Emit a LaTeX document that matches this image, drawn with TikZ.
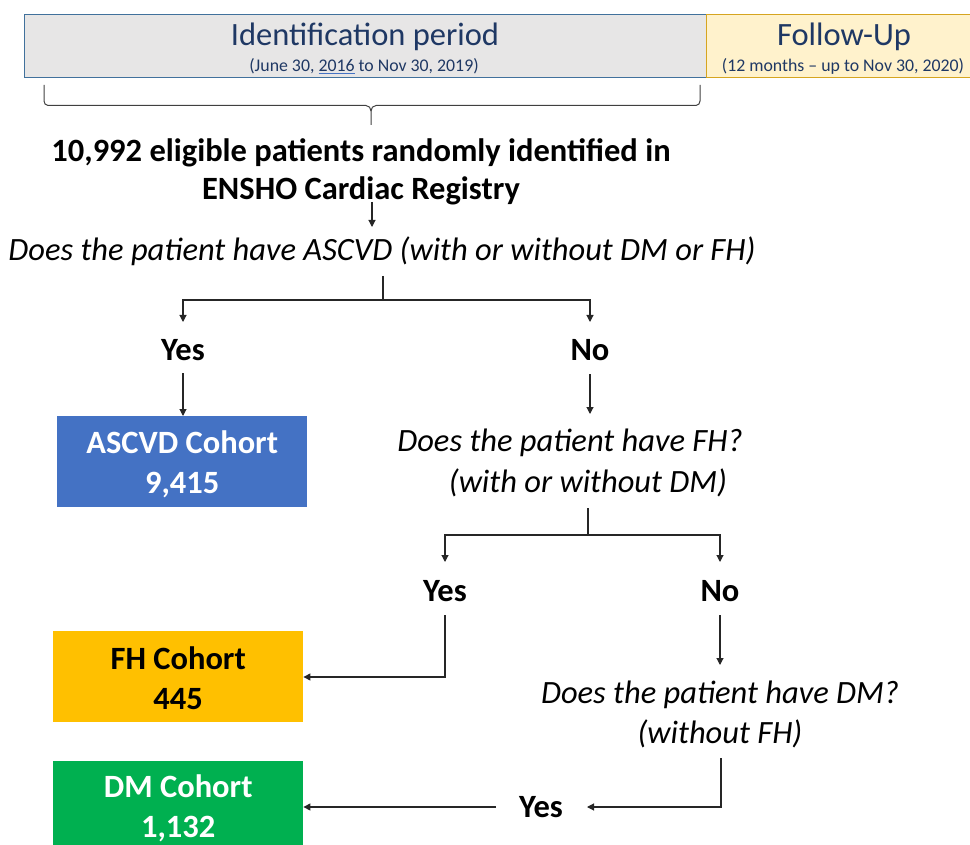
\documentclass[tikz,border=0pt]{standalone}
\usepackage{fontspec}
\setmainfont{Carlito}
\usetikzlibrary{arrows.meta}
\definecolor{hdrgray}{HTML}{E7E6E6}
\definecolor{hdrblue}{HTML}{41719C}
\definecolor{hdrtext}{HTML}{1F3864}
\definecolor{fuFill}{HTML}{FFF2CC}
\definecolor{fuLine}{HTML}{D6A520}
\definecolor{ascvd}{HTML}{4472C4}
\definecolor{fhcol}{HTML}{FFC000}
\definecolor{dmcol}{HTML}{00B050}
\definecolor{ulblue}{HTML}{4472C4}
\tikzset{
  lbl/.style={inner sep=0pt, align=center},
  q/.style={lbl, font=\fontsize{32.5}{40}\selectfont\itshape},
  ans/.style={lbl, font=\fontsize{32.5}{40}\selectfont\bfseries},
  cohort/.style={draw=none, minimum width=250pt, minimum height=91pt, inner sep=0pt, align=center, font=\fontsize{32.5}{40}\selectfont\bfseries},
  ctext/.style={lbl, font=\fontsize{32.5}{40}\selectfont\bfseries},
  conn/.style={draw=black!85, line width=1.1pt},
  arr/.style={conn, -{Triangle[length=7pt,width=7pt]}},
}
\begin{document}
\begin{tikzpicture}[x=1pt,y=-1pt]
\useasboundingbox (0,0) rectangle (970,845);
% header
\node[draw=hdrblue, fill=hdrgray, line width=1pt, minimum width=682pt, minimum height=63pt, anchor=north west, inner sep=0pt] (idbox) at (24,14) {};
\node[draw=fuLine, fill=fuFill, line width=1pt, minimum width=270pt, minimum height=63pt, anchor=north west, inner sep=0pt] (fubox) at (706,14) {};
\node[lbl, text=hdrtext, font=\fontsize{32.5}{36}\selectfont] (idt) at (365,37) {Identification period};
\node[lbl, text=hdrtext, font=\fontsize{17.8}{20}\selectfont] (ids) at (364,66) {(June 30, {\color{ulblue}\underline{\color{hdrtext}2016}} to Nov 30, 2019)};
\node[lbl, text=hdrtext, font=\fontsize{32.5}{36}\selectfont] (fut) at (844,37) {Follow-Up};
\node[lbl, text=hdrtext, font=\fontsize{17.8}{20}\selectfont] (fus) at (843,66) {(12 months -- up to Nov 30, 2020)};
% brace
\coordinate (bl) at (44,85);
\coordinate (br) at (700,85);
\coordinate (bt) at (371,125);
\draw[draw=black!75, line width=1pt] (bl) -- (44,101) to[out=-90,in=180] (48,105.5) -- (366,105.5) to[out=0,in=90] (371,111) -- (bt);
\draw[draw=black!75, line width=1pt] (br) -- (700,101) to[out=-90,in=0] (696,105.5) -- (376,105.5) to[out=180,in=90] (371,111);
% main
\node[lbl, font=\fontsize{32.5}{38.5}\selectfont\bfseries] (main) at (361,172) {10,992 eligible patients randomly identified in\\ENSHO Cardiac Registry};
\node[q] (q1) at (382,251) {Does the patient have ASCVD (with or without DM or FH)};
\coordinate (m0) at (372,202);
\draw[arr] (m0) -- (372,227);
\node[ans] (y1) at (183,350) {Yes};
\node[ans] (n1) at (590,350) {No};
\coordinate (j1) at (383,300);
\draw[conn] (383,276) -- (j1);
\draw[arr] (j1) -| (y1 |- 0,322);
\draw[arr] (j1) -| (n1 |- 0,322);
% ASCVD
\node[cohort, fill=ascvd, anchor=north west] (c1) at (57,416) {};
\node[ctext, text=white] (c1t) at (c1.center) [yshift=-3pt] {ASCVD Cohort\\9,415};
\draw[arr] (y1 |- 0,373) -- (c1.north -| y1);
\node[q] (q2a) at (570,443) {Does the patient have FH?};
\node[q] (q2b) at (588,483) {(with or without DM)};
\draw[arr] (n1 |- 0,374) -- (n1 |- 0,414);
\node[ans] (y2) at (445,591) {Yes};
\node[ans] (n2) at (720,591) {No};
\coordinate (j2) at (588,535);
\draw[conn] (588,508) -- (j2);
\draw[arr] (j2) -| (y2 |- 0,562);
\draw[arr] (j2) -| (n2 |- 0,562);
% FH
\node[cohort, fill=fhcol, anchor=north west] (c2) at (53,631) {};
\node[ctext, text=black] (c2t) at (c2.center) [yshift=-2pt] {FH Cohort\\445};
\draw[arr] (y2 |- 0,615) |- (c2.east |- 0,677);
\node[q] (q3) at (720,714) {Does the patient have DM?\\(without FH)};
\draw[arr] (n2 |- 0,615) -- (n2 |- 0,665);
\node[ans] (y3) at (541,807) {Yes};
\draw[arr] (721,758) |- (587,807);
% DM
\node[cohort, fill=dmcol, anchor=north west] (c3) at (53,761) {};
\node[ctext, text=white] (c3t) at (c3.center) [yshift=-2pt] {DM Cohort\\1,132};
\draw[arr] (496,807) -- (c3.east |- y3);
\end{tikzpicture}
\end{document}
